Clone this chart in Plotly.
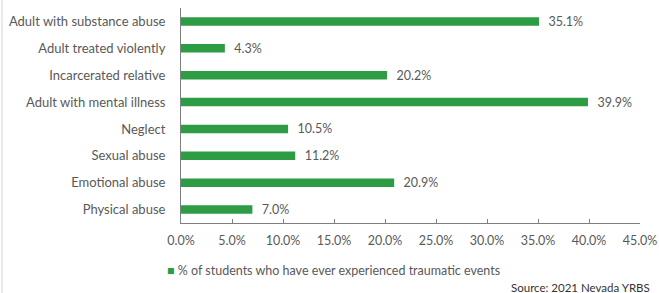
import plotly.graph_objects as go

categories = ["Adult with substance abuse", "Adult treated violently", "Incarcerated relative",
              "Adult with mental illness", "Neglect", "Sexual abuse", "Emotional abuse", "Physical abuse"]
values = [35.1, 4.3, 20.2, 39.9, 10.5, 11.2, 20.9, 7.0]
tick_vals = [0, 5, 10, 15, 20, 25, 30, 35, 40, 45]
tick_text = [f"{v:.1f}%" for v in tick_vals]
series_name = "% of students who have ever experienced traumatic events"
source_text = "Source: 2021 Nevada YRBS"

GREEN = "#2E9B45"
GRAY = "#595959"
FONT = "Lato, Open Sans, sans-serif"

fig = go.Figure()
fig.add_trace(go.Bar(
    y=categories, x=values, orientation="h", name=series_name,
    marker=dict(color=GREEN, line=dict(width=0)),
    text=[f"\u00a0\u00a0{v:.1f}%" for v in values], textposition="outside",
    textfont=dict(color=GRAY, size=12.5, family=FONT),
    constraintext="none",
    cliponaxis=False, width=0.32,
))

fig.update_layout(
    width=659, height=293,
    margin=dict(l=181, r=19, t=8, b=70, autoexpand=False),
    paper_bgcolor="white", plot_bgcolor="white",
    font=dict(family=FONT, color=GRAY, size=12.5),
    showlegend=False,
    xaxis=dict(range=[0, 45], tickvals=tick_vals, ticktext=tick_text, automargin=False,
               showgrid=False, zeroline=False, showline=True, linecolor="#7f7f7f", linewidth=1,
               ticks="inside", ticklen=4, tickcolor="#7f7f7f", ticklabelstandoff=6,
               tickfont=dict(size=12.5, color=GRAY, family=FONT), fixedrange=True),
    yaxis=dict(autorange="reversed", showgrid=False, zeroline=False, showline=True, automargin=False,
               linecolor="#7f7f7f", linewidth=1, ticks="", ticklabelstandoff=12,
               tickfont=dict(size=13, color=GRAY, family=FONT), fixedrange=True),
    shapes=[dict(type="line", xref="paper", yref="paper", x0=-0.39, x1=-0.39, y0=-0.33, y1=1.04,
                 layer="above", line=dict(color="#d4d4d4", width=1))],
    annotations=[
        dict(text=f"<span style='color:{GREEN}'>■</span> {series_name}",
             xref="paper", yref="paper", x=-0.035, y=-0.22, xanchor="left", yanchor="middle",
             showarrow=False, font=dict(size=12.5, color=GRAY, family=FONT)),
        dict(text=source_text, xref="paper", yref="paper", x=1.026, y=-0.30,
             xanchor="right", yanchor="middle", showarrow=False,
             font=dict(size=11.5, color="#333333", family=FONT)),
    ],
)

fig.write_html("out.html", config={"displayModeBar": False},
               post_script="document.body.style.margin='0';")
